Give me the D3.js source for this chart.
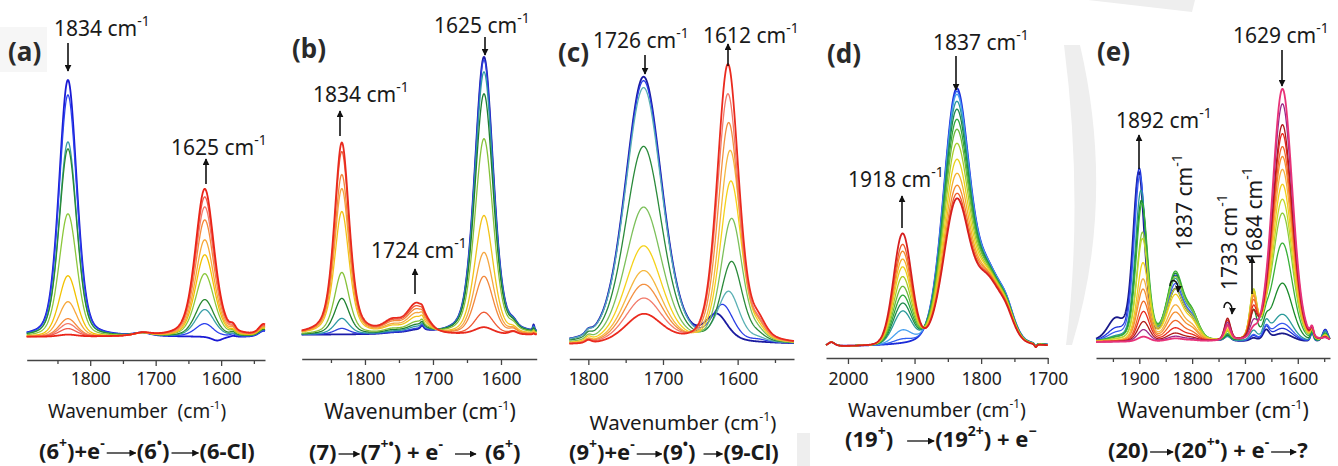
<!DOCTYPE html>
<html>
<head>
<meta charset="utf-8">
<script src="https://cdn.jsdelivr.net/npm/d3@7"></script>
<style>
  body { margin: 0; background: #fff; }
  svg { display: block; font-family: "Noto Sans", sans-serif; }
</style>
</head>
<body>
<svg id="fig" width="1338" height="466"></svg>
<script>
// ---- data: band heights (arb. absorbance units), blue -> red order ----

// (a) 6+ + e- -> 6* -> 6-Cl
const xDomA = [1897, 1533]
const hA1834 = [257, 242, 195, 188, 123, 61, 35, 18, 13, 8, 2]
const hA1625 = [0, 13, 27, 37, 63, 82, 97, 117, 130, 140, 148]
const hA1720 = [3, 3, 3, 3, 3, 3, 3, 3, 3, 3, 3]
const hA1606 = [-4, -1, 0, 0, 0, 0, 0, 0, 0, 0, 0]
const hA1582 = [1, 2, 2, 3, 3, 3, 4, 4, 4, 5, 5]
const hA1535 = [6, 6, 7, 7, 8, 8, 9, 9, 10, 10, 11]

// (b) 7 -> 7+* + e- -> 6+
const xDomB = [1893, 1547.5]
const hB1834 = [0, 6, 16, 36, 62, 123, 146, 160, 183, 192]
const hB1625 = [278, 275, 263, 241, 196, 119, 82, 58, 22, 7]
const hB1724 = [3, 4, 6, 8, 11, 16, 20, 24, 27, 30]
const hB1760 = [1, 1, 2, 3, 4, 6, 7, 9, 10, 11]
const hB1716 = [4, 4, 4, 4, 4, 4, 4, 3, 3, 3]
const hB1582 = [5, 5, 5, 5, 5, 4, 4, 4, 3, 3]
const hB1552 = [6, 5, 4, 3, 2, 2, 1, 1, 1, 1]

// (c) 9+ + e- -> 9* -> 9-Cl
const xDomC = [1825.5, 1524.5]
const hC1726 = [268, 264, 257, 198, 137, 98, 73, 59, 45, 29]
const hC1612 = [25, 35, 49, 80, 124, 162, 193, 221, 250, 280]
const posC1612 = [1628, 1620, 1612, 1608, 1608, 1609, 1610, 1612, 1613, 1613]
const hC1572 = [0, 2, 3, 5, 7, 9, 11, 12, 13, 15]
const hC1800 = [4, 4, 4, 4, 4, 4, 3, 3, 3, 3]

// (d) 19+ -> 19 2+ + e-
const xDomD = [2033, 1700]
const hD1918 = [0, 4, 13, 32, 40, 48, 57, 67, 77, 85, 93, 100, 111]
const hD1837 = [253, 250, 247, 240, 232, 222, 212, 198, 182, 168, 156, 148, 143]
const hD1790 = [64, 64, 64, 63, 63, 62, 62, 61, 61, 60, 60, 59, 58]
const hD1762 = [24, 24, 24, 23, 23, 23, 22, 22, 21, 21, 20, 20, 19]
const hD2025 = [4, 4, 4, 4, 4, 4, 4, 4, 4, 4, 4, 4, 4]
const hD1718 = [-3, -3, -3, -3, -3, -3, -3, -3, -3, -3, -3, -3, -3]

// (e) 20 -> 20+* + e- -> ?
const xDomE = [1982, 1539]
const hE1892 = [168, 172, 165, 150, 140, 137, 108, 102, 78, 62, 52, 40, 30, 20, 12, 5]
const posE1892 = [1901, 1900, 1899, 1897, 1896, 1895, 1894, 1894, 1893, 1893, 1893, 1892, 1892, 1892, 1892, 1892]
const hE1945 = [20, 10, 6, 3, 2, 2, 1, 1, 0, 0, 0, 0, 0, 0, 0, 0]
const hE1832 = [50, 63, 55, 60, 65, 67, 62, 50, 45, 35, 28, 20, 13, 8, 5, 3]
const hE1800 = [18, 22, 19, 21, 23, 23, 22, 18, 16, 12, 10, 7, 5, 3, 2, 1]
const hE1733 = [5, 6, 6, 4, 5, 6, 8, 9, 10, 12, 14, 16, 20, 22, 18, 15]
const hE1684 = [3, 5, 6, 10, 30, 45, 48, 48, 45, 42, 40, 36, 30, 25, 15, 8]
const hE1660 = [10, 12, 12, 15, 12, 10, 8, 5, 3, 2, 1, 0, 0, 0, 0, 0]
const hE1629 = [8, 13, 18, 27, 58, 98, 128, 142, 157, 172, 185, 195, 208, 217, 238, 253]
const hE1573 = [9, 9, 9, 9, 9, 9, 9, 9, 9, 9, 9, 9, 9, 9, 9, 9]
const hE1548 = [12, 12, 11, 10, 8, 7, 6, 5, 5, 4, 4, 3, 3, 3, 2, 2]

// ---- styles ----
const colorsA = ['#1a1ad4', '#2b40ee', '#3a9fa8', '#2a8a32', '#8cc83c', '#f2c200', '#f7a83a', '#f58a3a', '#f27a6a', '#f05a4a', '#ea2418']
const colorsB = ['#1a1aa8', '#2d3fe0', '#2f9aa6', '#1d7f2f', '#86c23a', '#f2c31a', '#f5a640', '#f2873a', '#ef5a35', '#e82a1e']
const colorsC = ['#1a1aa0', '#2a3ee6', '#5ab0b4', '#2a8a3a', '#7cc05a', '#f5d21a', '#f5b840', '#f39040', '#f27a6a', '#ea2a1e']
const colorsD = ['#1a2ad8', '#2f5ff0', '#48a0f0', '#2a9a9a', '#1f8a4a', '#2fa83a', '#6ab83a', '#a8cc2a', '#e8d21a', '#f5b02a', '#f38a2a', '#ee5a2a', '#d61e1e']
const colorsE = ['#1a1a8a', '#1e32d8', '#3a5cf0', '#2a9a9a', '#1a8a2a', '#38b038', '#8ccc3c', '#c2d82a', '#f2d01a', '#f5b040', '#f59030', '#f06a2a', '#e82a1e', '#b01818', '#9a2a8a', '#e83278']

const panels = [
  { dom: xDomA, colors: colorsA, x0: 26.7, x1: 265, axisY: 360, baseY: 337,
    majors: [1800, 1700, 1600], minors: [1850, 1750, 1650, 1550],
    bands: [
      { c: 1834, w: 32, eta: 0.3, h: hA1834 },
      { c: 1625, w: 34, eta: 0.4, h: hA1625 },
      { c: 1720, w: 30, eta: 0.5, h: hA1720 },
      { c: 1606, w: 20, eta: 0.5, h: hA1606 },
      { c: 1582, w: 10, eta: 0.5, h: hA1582 },
      { c: 1535, w: 18, eta: 0.5, h: hA1535 }
    ] },
  { dom: xDomB, colors: colorsB, x0: 301.7, x1: 536.7, axisY: 359, baseY: 335,
    majors: [1800, 1700, 1600], minors: [1850, 1750, 1650],
    bands: [
      { c: 1834, w: 26, eta: 0.5, h: hB1834 },
      { c: 1625, w: 32, eta: 0.35, h: hB1625 },
      { c: 1724, w: 34, eta: 0.4, h: hB1724 },
      { c: 1760, w: 30, eta: 0.4, h: hB1760 },
      { c: 1716, w: 6, eta: 0.5, h: hB1716 },
      { c: 1582, w: 14, eta: 0.5, h: hB1582 },
      { c: 1552, w: 3, eta: 0.5, h: hB1552 }
    ] },
  { dom: xDomC, colors: colorsC, x0: 569.3, x1: 794, axisY: 359, baseY: 345,
    majors: [1800, 1700, 1600], minors: [1750, 1650, 1550],
    bands: [
      { c: 1726, w: 58, eta: 0.3, h: hC1726 },
      { c: posC1612, w: 34, eta: 0.35, h: hC1612 },
      { c: 1572, w: 24, eta: 0.4, h: hC1572 },
      { c: 1800, w: 10, eta: 0.5, h: hC1800 }
    ] },
  { dom: xDomD, colors: colorsD, x0: 826, x1: 1047.7, axisY: 358, baseY: 347,
    majors: [2000, 1900, 1800, 1700], minors: [1950, 1850, 1750],
    bands: [
      { c: 1918, w: 32, eta: 0.1, h: hD1918 },
      { c: 1837, w: 46, eta: 0.2, h: hD1837 },
      { c: 1790, w: 46, eta: 0.2, h: hD1790 },
      { c: 1762, w: 30, eta: 0.3, h: hD1762 },
      { c: 2025, w: 12, eta: 0.5, h: hD2025 },
      { c: 1718, w: 4, eta: 0.5, h: hD1718 }
    ] },
  { dom: xDomE, colors: colorsE, x0: 1096, x1: 1330, axisY: 358, baseY: 342,
    majors: [1900, 1800, 1700, 1600], minors: [1950, 1850, 1750, 1650, 1550],
    bands: [
      { c: posE1892, w: 26, eta: 0.3, h: hE1892 },
      { c: 1945, w: 36, eta: 0.3, h: hE1945 },
      { c: 1832, w: 36, eta: 0.3, h: hE1832 },
      { c: 1800, w: 30, eta: 0.3, h: hE1800 },
      { c: 1733, w: 14, eta: 0.4, h: hE1733 },
      { c: 1684, w: 16, eta: 0.4, h: hE1684 },
      { c: 1660, w: 14, eta: 0.4, h: hE1660 },
      { c: 1629, w: 44, eta: 0.15, h: hE1629 },
      { c: 1573, w: 7, eta: 0.4, h: hE1573 },
      { c: 1548, w: 12, eta: 0.4, h: hE1548 }
    ] }
]

const svg = d3.select('#fig')

// faint watermark shapes behind everything
const bg = svg.append('g').attr('fill', '#eeeeee')
bg.append('path').attr('d', 'M1064,45 Q1084,200 1066,345 L1072,345 Q1116,200 1080,45 Z')
bg.append('path').attr('d', 'M1088,0 L1195,0 L1192,12 Z')
bg.append('rect').attr('x', 797).attr('y', 433).attr('width', 13).attr('height', 33)
svg.append('rect').attr('x', 0).attr('y', 27).attr('width', 47).attr('height', 45).attr('fill', '#f6f6f6')

// arrow head
const defs = svg.append('defs')
defs.append('marker').attr('id', 'ah').attr('viewBox', '0 0 10 10')
  .attr('refX', 9).attr('refY', 5).attr('markerWidth', 7).attr('markerHeight', 7)
  .attr('markerUnits', 'userSpaceOnUse').attr('orient', 'auto')
  .append('path').attr('d', 'M0,0 L10,5 L0,10 Z').attr('fill', '#111')

// pseudo-Voigt band profile
const pv = (x, c, w, eta) => {
  const u = (x - c) / (w / 2)
  return eta / (1 + u * u) + (1 - eta) * Math.exp(-Math.LN2 * u * u)
}

panels.forEach(p => {
  const x = d3.scaleLinear().domain(p.dom).range([p.x0, p.x1])
  const y = d3.scaleLinear().domain([0, 300]).range([p.baseY, p.baseY - 300])
  const grid = d3.range(d3.min(p.dom), d3.max(p.dom) + 0.01, 0.5)
  const nTraces = p.bands[0].h.length

  const traces = d3.range(nTraces).map(i => grid.map(wn => {
    let a = 0
    p.bands.forEach(b => {
      const c = Array.isArray(b.c) ? b.c[i] : b.c
      a += b.h[i] * pv(wn, c, b.w, b.eta)
    })
    return [wn, a]
  }))

  const line = d3.line().x(d => x(d[0])).y(d => y(d[1]))
  svg.append('g').selectAll('path')
    .data(traces)
    .join('path')
      .attr('d', line)
      .attr('fill', 'none')
      .attr('stroke', (d, i) => p.colors[i])
      .attr('stroke-width', (d, i) => (i === 0 || i === nTraces - 1) ? 1.8 : 1.3)
      .attr('stroke-linejoin', 'round')

  // axes: labelled majors, bare minors
  const gx = svg.append('g').attr('transform', `translate(0,${p.axisY})`)
  gx.call(d3.axisBottom(x).tickValues(p.majors).tickSize(6).tickSizeOuter(0)
      .tickPadding(373 - p.axisY - 6).tickFormat(d3.format('d')))
  gx.call(g => g.select('.domain').attr('stroke', '#444').attr('stroke-width', 1.4))
  gx.selectAll('.tick line').attr('stroke', '#444').attr('stroke-width', 1.3)
  gx.selectAll('.tick text').attr('font-size', 17.5).attr('fill', '#222')
    .attr('font-family', '"Noto Sans", sans-serif')
  svg.append('g').attr('transform', `translate(0,${p.axisY})`)
    .call(d3.axisBottom(x).tickValues(p.minors).tickSize(4).tickFormat(''))
    .call(g => g.select('.domain').remove())
    .selectAll('.tick line').attr('stroke', '#444').attr('stroke-width', 1.3)
})

// ---- text ----
const ink = '#1a1a1a'

function peakLabel(x, y, num, rot) {
  const t = svg.append('text').attr('font-size', 21).attr('fill', ink)
  if (rot) t.attr('transform', `translate(${x},${y}) rotate(-90)`)
  else t.attr('x', x).attr('y', y)
  t.append('tspan').text(num + ' cm')
  t.append('tspan').attr('font-size', 14).attr('dy', -10).text('-1')
}

function arrow(x1, y1, x2, y2) {
  svg.append('line').attr('x1', x1).attr('y1', y1).attr('x2', x2).attr('y2', y2)
    .attr('stroke', '#111').attr('stroke-width', 1.6).attr('marker-end', 'url(#ah)')
}

function hook(x, y) {
  svg.append('path').attr('d', `M${x - 5},${y + 2} C${x - 5},${y - 6} ${x + 4},${y - 6} ${x + 3},${y + 8}`)
    .attr('fill', 'none').attr('stroke', '#111').attr('stroke-width', 1.5).attr('marker-end', 'url(#ah)')
}

function panelTag(x, y, s) {
  svg.append('text').attr('x', x).attr('y', y).attr('font-size', 26).attr('font-weight', 'bold')
    .attr('fill', '#2a2a2a').text(s)
}

function axisTitle(cx, y, size, gap) {
  const t = svg.append('text').attr('x', cx).attr('y', y).attr('text-anchor', 'middle')
    .attr('font-size', size).attr('fill', ink)
  t.append('tspan').text('Wavenumber' + (gap ? '\u00a0\u00a0' : ' ') + '(cm')
  t.append('tspan').attr('font-size', size * 0.6).attr('dy', -size * 0.45).text('-1')
  t.append('tspan').attr('dy', size * 0.45).text(')')
}

// parts: text, '^sup', {arrow: len} or {gap: len}
function reaction(x, y, parts) {
  const g = svg.append('g').attr('font-weight', 'bold').attr('fill', ink)
  let cx = x
  parts.forEach(pt => {
    if (pt.arrow) {
      g.append('line').attr('x1', cx + 2).attr('y1', y - 6).attr('x2', cx + pt.arrow - 1).attr('y2', y - 6)
        .attr('stroke', '#111').attr('stroke-width', 1.3).attr('marker-end', 'url(#ah)')
      cx += pt.arrow
    } else if (pt.gap) {
      cx += pt.gap
    } else {
      const sup = pt[0] === '^'
      const t = g.append('text').attr('x', cx).attr('y', sup ? y - 11 : y)
        .attr('font-size', sup ? 14 : 22)
        .text(sup ? pt.slice(1) : pt)
      cx += t.node().getComputedTextLength()
    }
  })
}

// panel tags
panelTag(8, 61, '(a)')
panelTag(292, 58, '(b)')
panelTag(558, 62, '(c)')
panelTag(827, 63, '(d)')
panelTag(1097, 61, '(e)')

// (a)
peakLabel(54, 36, '1834'); arrow(68, 43, 68, 71)
peakLabel(171, 155, '1625'); arrow(206, 184, 206, 159)
// (b)
peakLabel(434, 33, '1625'); arrow(485, 37, 485, 55)
peakLabel(313, 102, '1834'); arrow(340, 136, 340, 111)
peakLabel(371, 258, '1724'); arrow(415, 294, 415, 269)
// (c)
peakLabel(593, 48, '1726'); arrow(645, 55, 645, 74)
peakLabel(703, 43, '1612'); arrow(728, 66, 728, 44)
// (d)
peakLabel(933, 50, '1837'); arrow(956, 56, 956, 90)
peakLabel(848, 187, '1918'); arrow(902, 228, 902, 196)
// (e)
peakLabel(1116, 128, '1892'); arrow(1139, 169, 1139, 135)
peakLabel(1233, 43, '1629'); arrow(1282, 50, 1282, 86)
peakLabel(1192, 250, '1837', true); hook(1175, 284)
peakLabel(1237, 290, '1733', true); hook(1229, 306)
peakLabel(1262, 263, '1684', true); arrow(1252, 294, 1252, 257)

// axis titles
axisTitle(137, 418, 19, true)
axisTitle(420, 419, 21)
axisTitle(683, 430, 20.5)
axisTitle(937, 417, 19.5)
axisTitle(1213, 418, 21)

// reaction schemes
reaction(39, 459, ['(6', '^+', ')+e', '^-', { arrow: 32 }, '(6', '^\u2022', ')', { arrow: 30 }, '(6-Cl)'])
reaction(309, 460, ['(7)', { arrow: 24 }, '(7', '^+\u2022', ') + e', '^-', { gap: 10 }, { arrow: 24 }, { gap: 8 }, '(6', '^+', ')'])
reaction(569, 460, ['(9', '^+', ')+e', '^-', { arrow: 28 }, '(9', '^\u2022', ')', { gap: 6 }, { arrow: 22 }, '(9-Cl)'])
reaction(845, 447, ['(19', '^+', ')', { gap: 12 }, { arrow: 30 }, '(19', '^2+', ') + e', '^\u2212'])
reaction(1108, 458, ['(20)', { arrow: 26 }, '(20', '^+\u2022', ') + e', '^-', { arrow: 28 }, ' ?'])
</script>
</body>
</html>
